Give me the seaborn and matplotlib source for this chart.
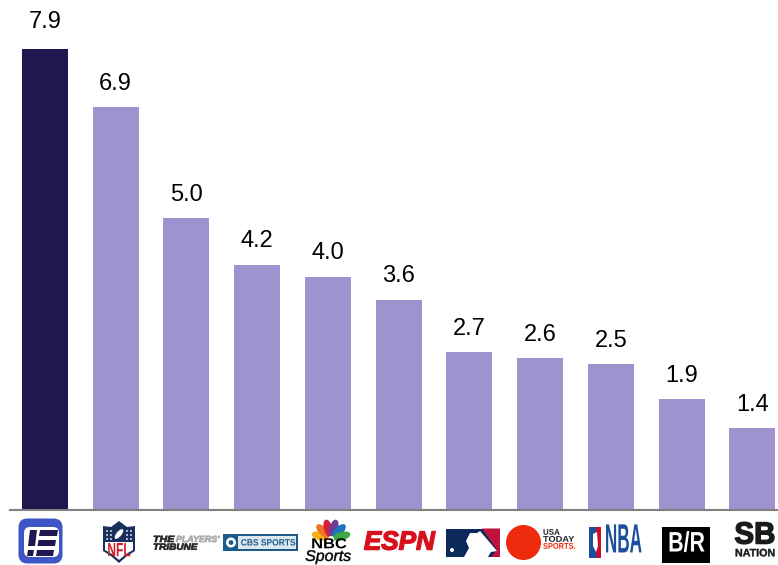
import math
import matplotlib
matplotlib.use("Agg")
import matplotlib.pyplot as plt
import matplotlib.patches as mp
from matplotlib.patheffects import AbstractPathEffect
from matplotlib.transforms import Affine2D
import pandas as pd
import seaborn as sns

# values
outlets = ["Enthusiast", "NFL", "The Players' Tribune", "CBS Sports", "NBC Sports",
           "ESPN", "MLB", "USA Today Sports", "NBA", "Bleacher Report", "SB Nation"]
values = [7.9, 6.9, 5.0, 4.2, 4.0, 3.6, 2.7, 2.6, 2.5, 1.9, 1.4]
bar_colors = ["#201650"] + ["#9E93CF"] * 10

sns.set_theme(style="white")
plt.rcParams["font.family"] = ["Liberation Sans", "DejaVu Sans"]

df = pd.DataFrame({"outlet": outlets, "value": values})

fig = plt.figure(figsize=(7.78, 5.65), dpi=100)
ax = fig.add_axes([10 / 778, 1 - 510 / 565, 768 / 778, 510 / 565])
sns.barplot(data=df, x="outlet", y="value", hue="outlet", palette=bar_colors,
            dodge=False, legend=False, width=0.65, saturation=1, linewidth=0, ax=ax)
ax.set_xlim(-0.492, 10.363)
ax.set_ylim(0, 8.74)
ax.set_xlabel("")
ax.set_ylabel("")
ax.set_xticks([])
ax.set_yticks([])
sns.despine(ax=ax, left=True)
ax.spines["bottom"].set_color("#808080")
ax.spines["bottom"].set_linewidth(1.5)
for i, c in enumerate(ax.containers):
    ax.bar_label(c, fmt="%.1f", padding=11.5 if i == 0 else 9, fontsize=17, color="black")

# logo row, drawn in pixel coordinates on a transparent overlay
lg = fig.add_axes([0, 0, 1, 1], facecolor="none")
lg.set_xlim(0, 778)
lg.set_ylim(565, 0)
lg.axis("off")


class Squeeze(AbstractPathEffect):
    # stretches a text around its anchor, logos use condensed lettering
    def __init__(self, cx, cy, sx, sy, heavy):
        super().__init__()
        self.cx, self.cy, self.sx, self.sy, self.heavy = cx, cy, sx, sy, heavy

    def draw_path(self, renderer, gc, tpath, affine, rgbFace=None):
        t = affine + Affine2D().translate(-self.cx, -self.cy).scale(self.sx, self.sy).translate(self.cx, self.cy)
        gc0 = renderer.new_gc()
        gc0.copy_properties(gc)
        gc0.set_linewidth(self.heavy)
        gc0.set_foreground(rgbFace)
        renderer.draw_path(gc0, tpath, t, rgbFace)
        gc0.restore()


def poly(pts, color):
    lg.add_patch(mp.Polygon(pts, closed=True, fc=color, ec="none"))


def box(x0, y0, x1, y1, color):
    lg.add_patch(mp.Rectangle((x0, y0), x1 - x0, y1 - y0, fc=color, ec="none"))


def dot(x, y, r, color):
    lg.add_patch(mp.Circle((x, y), r, fc=color, ec="none"))


def label(x, y, s, size, color="black", weight="bold", style="normal", ha="center",
          sx=1.0, sy=1.0, heavy=0.0):
    t = lg.text(x, y, s, fontsize=size, color=color, fontweight=weight, fontstyle=style,
                ha=ha, va="center")
    cx, cy = lg.transData.transform((x, y))
    t.set_path_effects([Squeeze(cx, cy, sx, sy, heavy)])


# Enthusiast mark
lg.add_patch(mp.FancyBboxPatch((22, 522), 37, 38, boxstyle="round,pad=3.5,rounding_size=9",
                               fc="#3F55C5", ec="none"))
lg.add_patch(mp.FancyBboxPatch((24, 527), 35, 30, boxstyle="round,pad=0,rounding_size=6",
                               fc="white", ec="none"))
poly([(30, 530), (37, 530), (35, 546), (28, 546)], "#201650")
poly([(28, 550), (34, 550), (33, 556), (27, 556)], "#201650")
poly([(40, 530), (58, 530), (57, 536), (39, 536)], "#201650")
poly([(38.5, 540), (56, 540), (55, 546), (37.5, 546)], "#201650")
poly([(37, 550), (54, 550), (53, 556), (36, 556)], "#201650")

# NFL shield
poly([(103, 526), (111, 527), (119, 521), (127, 527), (135, 526), (135, 551),
      (127, 556), (119, 563), (111, 556), (103, 551)], "#1A2F5F")
poly([(105, 542), (133, 542), (133, 550), (126, 554), (119, 560), (112, 554), (105, 550)], "white")
lg.add_patch(mp.Ellipse((119, 534), 12, 5, angle=-50, fc="white", ec="none"))
for sx_ in (107, 111, 127, 131):
    for sy_ in (531, 535, 539):
        dot(sx_, sy_, 0.9, "white")
label(119, 551, "NFL", 12, color="#D0202E", sx=0.72, sy=1.15)

# The Players' Tribune
label(153, 540, "THE", 4.8, ha="left", style="italic", color="#222222", sx=1.6, sy=1.35, heavy=0.5)
label(176, 540, "PLAYERS'", 4.8, ha="left", style="italic", color="#A8A8A8", sx=1.33, sy=1.35, heavy=0.5)
label(153, 547.7, "TRIBUNE", 4.8, ha="left", style="italic", color="#222222", sx=1.5, sy=1.35, heavy=0.5)

# CBS Sports
box(223, 534, 298, 551, "#1C5A8A")
box(225, 536, 296, 549, "#DCE8F0")
box(225, 536, 238, 549, "#1C5A8A")
dot(231, 542.5, 5, "white")
dot(231, 542.5, 2.4, "#1C5A8A")
label(268, 543, "CBS SPORTS", 6.6, color="#1C5A8A", sx=0.92)

# NBC Sports peacock
feather_colors = ["#F5B21A", "#EE7623", "#D3213C", "#6C3C97", "#1A75BC", "#3FA845"]
for k, col in enumerate(feather_colors):
    a = 165 - k * 30
    r = math.radians(a)
    lg.add_patch(mp.Ellipse((331 + 11 * math.cos(r), 539 - 11 * math.sin(r)), 18, 8.5,
                            angle=-a, fc=col, ec="none"))
dot(331, 539, 3, "white")
label(329, 545, "NBC", 9.5, sx=1.25, sy=1.1)
label(328, 557, "Sports", 8.5, weight="normal", style="italic", sx=1.35, sy=1.3, heavy=0.3)

# ESPN
label(399.5, 543.5, "ESPN", 14, color="#D8101C", style="italic", sx=1.34, sy=1.35, heavy=1.0)

# MLB
box(446, 528.5, 500, 557, "#0B2A5B")
poly([(482, 528.5), (500, 528.5), (500, 557), (491, 557), (497, 550)], "#C0123C")
poly([(464, 557), (469, 548), (466, 541), (470, 533), (477, 533), (480, 531), (497, 551),
      (491, 552), (488, 557)], "white")
dot(452, 550, 2, "white")

# USA Today Sports
dot(523.5, 542.5, 17.5, "#EE2B0C")
label(543, 533, "USA", 5, ha="left", color="#222222", sx=1.15, sy=1.2)
label(543, 540, "TODAY", 5, ha="left", color="#222222", sx=1.33, sy=1.2)
label(543, 547, "SPORTS.", 5, ha="left", color="#EE2B0C", sx=1.07, sy=1.2)

# NBA
box(589, 527, 601, 558, "#1D4F9C")
poly([(596, 527), (601, 527), (601, 558), (597, 558), (595, 545)], "#C8102E")
poly([(593, 534), (597, 532), (598, 546), (596, 552), (593, 546)], "white")
label(623.5, 543, "NBA", 14, color="#1D4F9C", sx=0.88, sy=2.1)

# Bleacher Report
box(662, 527, 710, 563, "#000000")
label(686.5, 545, "B/R", 14, color="white", sx=1.1, sy=1.45)

# SB Nation
label(755, 536, "SB", 16, color="#1A1A1A", sx=1.33, sy=1.38, heavy=1.0)
label(755, 553, "NATION", 7, color="#1A1A1A", sx=1.1, sy=1.1, heavy=0.3)

fig.savefig("out.png", dpi=100)
